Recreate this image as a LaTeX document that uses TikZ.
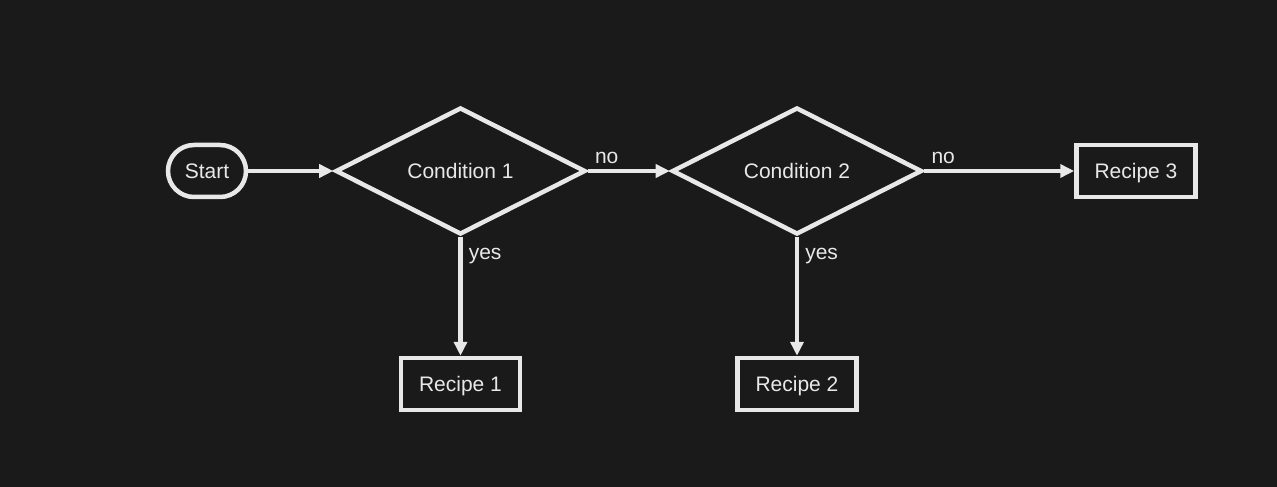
\documentclass[tikz,border=0pt]{standalone}
\usepackage{fontspec}
\setmainfont{Liberation Sans}
\usetikzlibrary{positioning,shapes.geometric,arrows.meta}
\definecolor{bgcol}{HTML}{1A1A1A}
\definecolor{fgcol}{HTML}{E8E8E8}
\tikzset{
  base/.style={draw=fgcol, line width=4.5pt, text=fgcol, font=\fontsize{21}{25}\selectfont,
    inner sep=0pt, text height=15pt, text depth=0pt},
  terminal/.style={base, rounded corners=26pt, minimum width=78pt, minimum height=52pt},
  decision/.style={base, diamond, minimum width=250pt, minimum height=127pt},
  recipe/.style={base, rectangle, minimum width=119pt, minimum height=52pt},
  arr/.style={draw=fgcol, line width=4.5pt, -{Triangle[length=14pt,width=13pt]}},
  lbl/.style={text=fgcol, font=\fontsize{21}{25}\selectfont, inner sep=0pt},
}
\begin{document}
\begin{tikzpicture}
      % Background and bounding box
      \fill[bgcol] (-207pt,171pt) rectangle (1070pt,-316pt);
      \useasboundingbox (-207pt,171pt) rectangle (1070pt,-316pt);
      % Define nodes
      \node[terminal]                        (start) {Start};
      \node[decision, right=85pt of start]   (cond1) {Condition 1};
      \node[decision, right=82pt of cond1]   (cond2) {Condition 2};
      \node[recipe, right=150pt of cond2]    (rec3)  {Recipe 3};
      \node[recipe, below=119pt of cond1]    (rec1)  {Recipe 1};
      \node[recipe, below=119pt of cond2]    (rec2)  {Recipe 2};
      % Connect nodes
      \draw[arr] (start) -- (cond1);
      \draw[arr] (cond1) -- node[lbl, pos=0, anchor=south west, xshift=5pt, yshift=5pt] {no} (cond2);
      \draw[arr] (cond2) -- node[lbl, pos=0, anchor=south west, xshift=5pt, yshift=5pt] {no} (rec3);
      \draw[arr] (cond1) -- node[lbl, pos=0, anchor=north west, xshift=6pt, yshift=-9pt] {yes} (rec1);
      \draw[arr] (cond2) -- node[lbl, pos=0, anchor=north west, xshift=6pt, yshift=-9pt] {yes} (rec2);
    \end{tikzpicture}
\end{document}
